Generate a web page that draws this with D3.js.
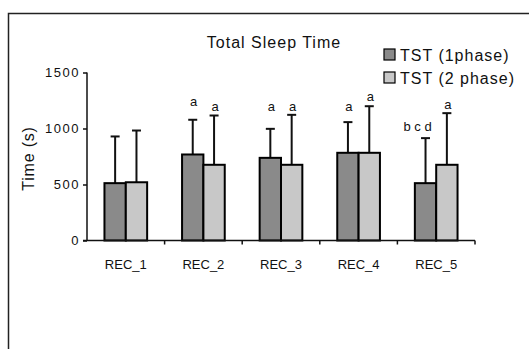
<html>
    <head>
        <style>
            body { margin: 0; background: #fff; }
            text { font-family: "Liberation Sans", Arial, sans-serif; fill: #111; }
        </style>
    </head>
    <body>
        <div id="chart"></div>
        <script src="https://d3js.org/d3.v7.min.js"></script>
        <script>
            const categories = ['REC_1', 'REC_2', 'REC_3', 'REC_4', 'REC_5'];
            const seriesNames = ['TST (1phase)', 'TST (2 phase)'];
            const tst1 = [512, 768, 738, 783, 512];
            const tst2 = [520, 676, 676, 783, 676];
            const err1 = [929, 1078, 997, 1057, 914];   // top of error bar
            const err2 = [982, 1116, 1122, 1199, 1137];
            const letters1 = ['', 'a', 'a', 'a', 'b c d'];
            const letters2 = ['', 'a', 'a', 'a', 'a'];
            const letterAt1 = [0, 1235, 1188, 1188, 1012]; // height of the letter (s)
            const letterAt2 = [0, 1188, 1188, 1280, 1214];
            const yTicks = [0, 500, 1000, 1500];

            const colors = ['#8a8a8a', '#c8c8c8'];

            const W = 529, H = 349;
            const plotL = 87, plotR = 475, plotT = 72.5, plotB = 240.5;

            const svg = d3.select('#chart')
                .append('svg')
                .attr('width', W)
                .attr('height', H);

            // outer frame, runs off the right and bottom edges
            svg.append('rect')
                .attr('x', 8.5).attr('y', 13.5)
                .attr('width', 600).attr('height', 400)
                .attr('fill', 'none')
                .attr('stroke', '#222')
                .attr('stroke-width', 1.5);

            const x0 = d3.scaleBand()
                .domain(categories)
                .range([plotL, plotR])
                .paddingInner(0.45)
                .paddingOuter(0.225);

            const x1 = d3.scaleBand()
                .domain([0, 1])
                .range([0, x0.bandwidth()]);

            const y = d3.scaleLinear()
                .domain([0, 1500])
                .range([plotB, plotT]);

            const rows = categories.map((c, i) => ({
                cat: c,
                vals: [
                    { s: 0, v: tst1[i], e: err1[i], l: letters1[i], la: letterAt1[i] },
                    { s: 1, v: tst2[i], e: err2[i], l: letters2[i], la: letterAt2[i] }
                ]
            }));

            const groups = svg.selectAll('.grp')
                .data(rows)
                .enter()
                .append('g')
                .attr('class', 'grp')
                .attr('transform', d => `translate(${x0(d.cat)},0)`);

            // error bars (drawn first, bars cover the lower half)
            const eb = groups.selectAll('.err')
                .data(d => d.vals)
                .enter()
                .append('g')
                .attr('class', 'err')
                .attr('stroke', '#111')
                .attr('stroke-width', 2);

            eb.append('line')
                .attr('x1', d => x1(d.s) + x1.bandwidth() / 2)
                .attr('x2', d => x1(d.s) + x1.bandwidth() / 2)
                .attr('y1', d => y(d.v))
                .attr('y2', d => y(d.e));

            eb.append('line')
                .attr('x1', d => x1(d.s) + x1.bandwidth() / 2 - 4.5)
                .attr('x2', d => x1(d.s) + x1.bandwidth() / 2 + 4.5)
                .attr('y1', d => y(d.e))
                .attr('y2', d => y(d.e));

            groups.selectAll('.bar')
                .data(d => d.vals)
                .enter()
                .append('rect')
                .attr('class', 'bar')
                .attr('x', d => x1(d.s))
                .attr('y', d => y(d.v))
                .attr('width', x1.bandwidth())
                .attr('height', d => y(0) - y(d.v))
                .attr('fill', d => colors[d.s])
                .attr('stroke', '#000')
                .attr('stroke-width', 2);

            // significance letters
            groups.selectAll('.letter')
                .data(d => d.vals.filter(v => v.l))
                .enter()
                .append('text')
                .attr('class', 'letter')
                .attr('x', d => x1(d.s) + x1.bandwidth() / 2 + (d.s === 0 && d.l.length > 1 ? -8 : 1))
                .attr('y', d => y(d.la) + 4)
                .attr('text-anchor', 'middle')
                .style('font-size', '13px')
                .text(d => d.l);

            // y axis
            const yAxis = svg.append('g')
                .attr('transform', `translate(${plotL},0)`)
                .call(d3.axisLeft(y).tickValues(yTicks).tickFormat(d3.format('d'))
                    .tickSize(4).tickPadding(3));
            yAxis.select('.domain').attr('stroke', '#111').attr('stroke-width', 1.5)
                .attr('d', `M0,${plotT}V${plotB}`);
            yAxis.selectAll('.tick line').attr('stroke', '#111').attr('stroke-width', 1.5);
            yAxis.selectAll('.tick text')
                .style('font-size', '13px')
                .style('letter-spacing', '1.5px')
                .attr('fill', '#111');

            // x axis with ticks at category boundaries
            const xAxis = svg.append('g')
                .attr('transform', `translate(0,${plotB})`)
                .call(d3.axisBottom(x0).tickSize(0).tickPadding(19));
            xAxis.select('.domain').attr('stroke', '#111').attr('stroke-width', 1.5)
                .attr('d', `M${plotL - 4},0H${plotR}`);
            xAxis.selectAll('.tick text')
                .style('font-size', '13px')
                .attr('fill', '#111');
            xAxis.selectAll('.bound')
                .data(categories)
                .enter()
                .append('line')
                .attr('class', 'bound')
                .attr('x1', d => x0(d) + x0.bandwidth() / 2 + x0.step() / 2)
                .attr('x2', d => x0(d) + x0.bandwidth() / 2 + x0.step() / 2)
                .attr('y1', 0)
                .attr('y2', 4)
                .attr('stroke', '#111')
                .attr('stroke-width', 1.5);

            // axis title
            svg.append('text')
                .attr('transform', `translate(34,${(plotT + plotB) / 2 + 2}) rotate(-90)`)
                .attr('text-anchor', 'middle')
                .style('font-size', '16px')
                .style('letter-spacing', '0.8px')
                .text('Time (s)');

            // chart title
            svg.append('text')
                .attr('x', 274)
                .attr('y', 47.5)
                .attr('text-anchor', 'middle')
                .style('font-size', '16px')
                .style('letter-spacing', '1px')
                .text('Total Sleep Time');

            // legend
            const legend = svg.selectAll('.legend')
                .data(seriesNames)
                .enter()
                .append('g')
                .attr('class', 'legend')
                .attr('transform', (d, i) => `translate(384,${49 + i * 23})`);

            legend.append('rect')
                .attr('width', 11)
                .attr('height', 11)
                .attr('fill', (d, i) => colors[i])
                .attr('stroke', '#000')
                .attr('stroke-width', 1.2);

            legend.append('text')
                .attr('x', 16)
                .attr('y', 11.5)
                .style('font-size', '16px')
                .style('letter-spacing', '1px')
                .text(d => d);
        </script>
    </body>
</html>
